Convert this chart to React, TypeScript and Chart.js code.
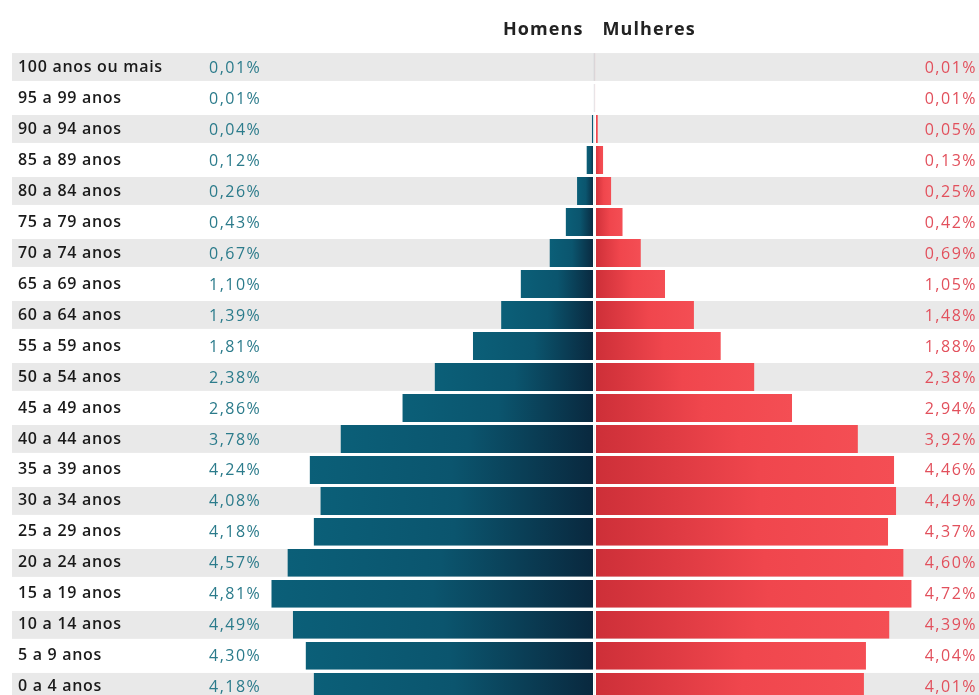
import React, { useEffect, useRef } from "react";
import { Chart, registerables } from "chart.js";

Chart.register(...registerables);

const categories = [
  "100 anos ou mais", "95 a 99 anos", "90 a 94 anos", "85 a 89 anos", "80 a 84 anos",
  "75 a 79 anos", "70 a 74 anos", "65 a 69 anos", "60 a 64 anos", "55 a 59 anos",
  "50 a 54 anos", "45 a 49 anos", "40 a 44 anos", "35 a 39 anos", "30 a 34 anos",
  "25 a 29 anos", "20 a 24 anos", "15 a 19 anos", "10 a 14 anos", "5 a 9 anos", "0 a 4 anos",
];

const homens = [0.01, 0.01, 0.04, 0.12, 0.26, 0.43, 0.67, 1.10, 1.39, 1.81, 2.38, 2.86, 3.78, 4.24, 4.08, 4.18, 4.57, 4.81, 4.49, 4.30, 4.18];
const mulheres = [0.01, 0.01, 0.05, 0.13, 0.25, 0.42, 0.69, 1.05, 1.48, 1.88, 2.38, 2.94, 3.92, 4.46, 4.49, 4.37, 4.60, 4.72, 4.39, 4.04, 4.01];

const seriesNames = ["Homens", "Mulheres"];

const FONT = "'Open Sans'";
const fmt = (v: number) => v.toFixed(2).replace(".", ",") + "%";

function barGradient(ctx: any, male: boolean) {
  const chart = ctx.chart;
  const xs = chart.scales && chart.scales.x;
  const fallback = male ? "#0b4a62" : "#e6404a";
  if (!xs || !chart.chartArea || ctx.raw === undefined) return fallback;
  const p0 = xs.getPixelForValue(0);
  const p1 = xs.getPixelForValue(ctx.raw);
  if (!isFinite(p0) || !isFinite(p1) || Math.abs(p1 - p0) < 1) return fallback;
  const g = chart.ctx.createLinearGradient(p1, 0, p0, 0);
  if (male) {
    g.addColorStop(0, "#0b5f78");
    g.addColorStop(0.5, "#0b556e");
    g.addColorStop(1, "#09283e");
  } else {
    g.addColorStop(0, "#f44e54");
    g.addColorStop(0.45, "#f0464d");
    g.addColorStop(1, "#cd2f38");
  }
  return g;
}

const decorPlugin = {
  id: "decor",
  beforeDraw(chart: any) {
    const { ctx } = chart;
    const y = chart.scales.y;
    const rowH = (y.bottom - y.top) / categories.length;
    const bandH = rowH * 0.9;
    ctx.save();
    ctx.fillStyle = "#e9e9e9";
    categories.forEach((_, i) => {
      if (i % 2 === 0) {
        const cy = y.getPixelForValue(i);
        ctx.fillRect(12, cy - bandH / 2, chart.width - 12, bandH);
      }
    });
    ctx.restore();
    // spacing used by the category tick labels drawn next
    (ctx as any).letterSpacing = "0.7px";
  },
  afterDraw(chart: any) {
    const { ctx } = chart;
    const y = chart.scales.y;
    const xs = chart.scales.x;
    ctx.save();
    ctx.font = `400 16px ${FONT}`;
    (ctx as any).letterSpacing = "1.5px";
    ctx.textBaseline = "middle";
    categories.forEach((_, i) => {
      const cy = y.getPixelForValue(i) + 1;
      ctx.fillStyle = "#2b7b8b";
      ctx.textAlign = "left";
      ctx.fillText(fmt(homens[i]), 209, cy);
      ctx.fillStyle = "#e2505c";
      ctx.textAlign = "right";
      ctx.fillText(fmt(mulheres[i]), chart.width - 2, cy);
    });
    const c = xs.getPixelForValue(0);
    ctx.fillStyle = "#222";
    ctx.font = `700 18px ${FONT}`;
    (ctx as any).letterSpacing = "1.1px";
    ctx.textAlign = "right";
    ctx.fillText(seriesNames[0], c - 11, 30);
    ctx.textAlign = "left";
    ctx.fillText(seriesNames[1], c + 8, 30);
    ctx.restore();
    (ctx as any).letterSpacing = "0px";
  },
};

export default function App() {
  const ref = useRef<HTMLCanvasElement | null>(null);
  useEffect(() => {
    if (!ref.current) return;
    const chart = new Chart(ref.current, {
      type: "bar",
      data: {
        labels: categories,
        datasets: [
          {
            label: seriesNames[0],
            data: homens.map((v) => -v),
            backgroundColor: (ctx: any) => barGradient(ctx, true),
            borderColor: "#ffffff",
            borderWidth: { left: 0, right: 1.5, top: 0, bottom: 0 },
            borderSkipped: false,
            barPercentage: 0.9,
            categoryPercentage: 1,
          },
          {
            label: seriesNames[1],
            data: mulheres,
            backgroundColor: (ctx: any) => barGradient(ctx, false),
            borderColor: "#ffffff",
            borderWidth: { left: 1.5, right: 0, top: 0, bottom: 0 },
            borderSkipped: false,
            barPercentage: 0.9,
            categoryPercentage: 1,
          },
        ],
      } as any,
      options: {
        indexAxis: "y",
        responsive: false,
        animation: false,
        devicePixelRatio: 1,
        layout: { padding: { left: 18, top: 51.5, right: 0, bottom: 7.4 } },
        plugins: { legend: { display: false }, tooltip: { enabled: false } },
        scales: {
          x: {
            stacked: true,
            display: false,
            min: -4.978,
            max: 5.722,
          },
          y: {
            stacked: true,
            grid: { display: false },
            border: { display: false },
            ticks: {
              crossAlign: "far",
              color: "#1a1a1a",
              padding: 0,
              font: { family: FONT, size: 16, weight: "600" },
            },
            afterFit: (s: any) => {
              s.width = 242;
            },
          },
        },
      } as any,
      plugins: [decorPlugin],
    });
    return () => chart.destroy();
  }, []);
  return (
    <div style={{ position: "fixed", left: 0, top: 0, width: 979, height: 695, overflow: "hidden", background: "#fff" }}>
      <canvas ref={ref} width={979} height={712} style={{ display: "block" }} />
    </div>
  );
}
